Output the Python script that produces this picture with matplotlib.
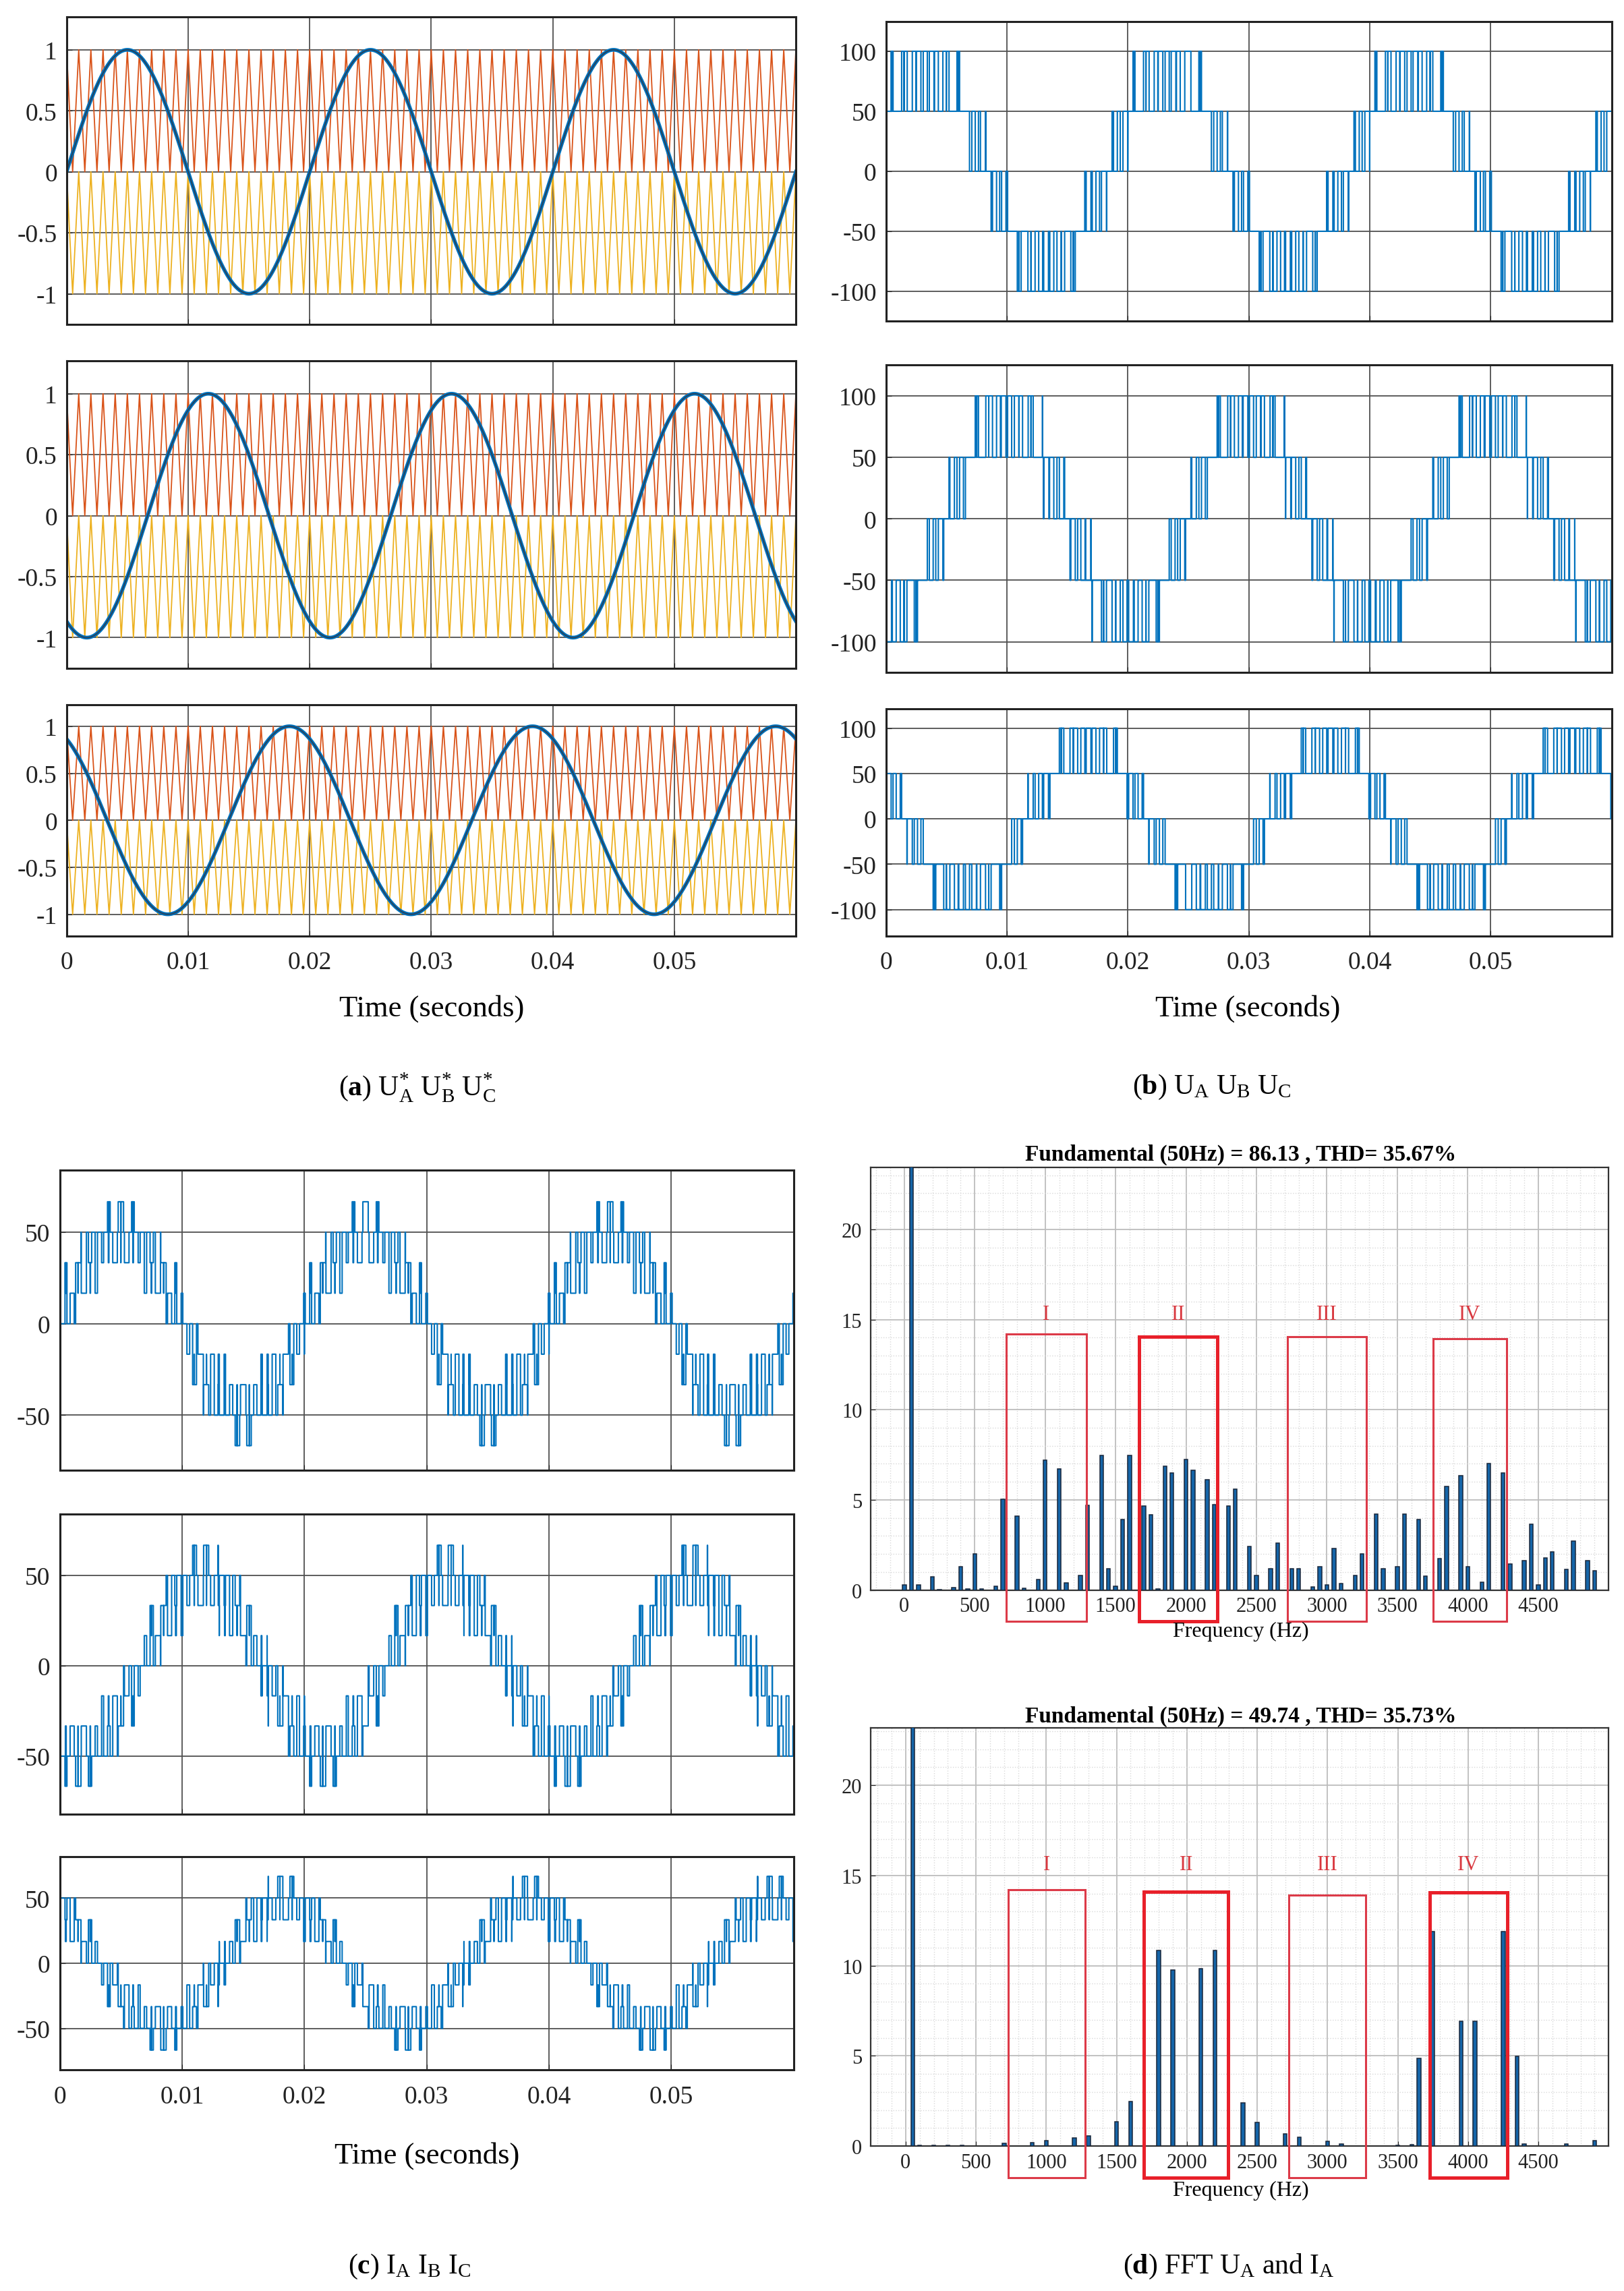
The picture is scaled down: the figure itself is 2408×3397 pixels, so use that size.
import numpy as np
import matplotlib.pyplot as plt
from matplotlib.patches import Rectangle
from matplotlib.ticker import MultipleLocator

plt.rcParams['font.family'] = ['Liberation Serif', 'DejaVu Serif']
plt.rcParams['axes.unicode_minus'] = False
plt.rcParams['mathtext.fontset'] = 'custom'
plt.rcParams['mathtext.rm'] = 'Liberation Serif'
plt.rcParams['mathtext.bf'] = 'Liberation Serif:bold'
plt.rcParams['mathtext.it'] = 'Liberation Serif:italic'

# simulation settings
f_ref = 50            # reference sine (Hz)
f_carrier = 1000      # triangular carrier (Hz)
mod_index = 1.0
level_step = 50       # dc level per cell
phase_deg = [0, -120, 120]
t_end = 0.06

time_ticks = [0, 0.01, 0.02, 0.03, 0.04, 0.05]
time_ticklabels = ['0', '0.01', '0.02', '0.03', '0.04', '0.05']

# FFT of U_A
fft_ua_freq = [0, 50, 100, 200, 250, 350, 400, 450, 500, 550, 650, 700, 800, 850, 950, 1000,
               1100, 1150, 1250, 1300, 1400, 1450, 1500, 1550, 1600, 1700, 1750, 1800, 1850,
               1900, 2000, 2050, 2150, 2200, 2300, 2350, 2450, 2500, 2600, 2650, 2750, 2800,
               2900, 2950, 3000, 3050, 3100, 3200, 3250, 3350, 3400, 3500, 3550, 3650, 3700,
               3800, 3850, 3950, 4000, 4100, 4150, 4250, 4300, 4400, 4450, 4500, 4550, 4600,
               4700, 4750, 4850, 4900]
fft_ua_mag = [0.3, 86.13, 0.28, 0.72, 0.03, 0.15, 1.3, 0.05, 2.0, 0.05, 0.2, 5.05, 4.1, 0.1,
              0.57, 7.2, 6.7, 0.4, 0.8, 4.7, 7.45, 1.2, 0.2, 3.93, 7.45, 4.66, 4.18, 0.05, 6.86,
              6.5, 7.23, 6.64, 6.13, 4.72, 4.65, 5.6, 2.42, 0.8, 1.2, 2.6, 1.2, 1.2,
              0.17, 1.3, 0.3, 2.3, 0.37, 0.82, 2.0, 4.2, 1.18, 1.3, 4.2, 3.9, 0.78,
              1.75, 5.75, 6.35, 1.3, 0.45, 7.0, 6.5, 1.43, 1.62, 3.65, 0.3, 1.8, 2.1,
              1.15, 2.72, 1.62, 1.08]

# FFT of I_A
fft_ia_freq = [50, 100, 200, 300, 400, 700, 900, 1000, 1200, 1300, 1500, 1600, 1800, 1900,
               2100, 2200, 2400, 2500, 2700, 2800, 3000, 3100, 3500, 3600, 3650, 3750, 3950,
               4050, 4250, 4350, 4400, 4700, 4900]
fft_ia_mag = [49.74, 0.05, 0.03, 0.03, 0.03, 0.15, 0.2, 0.3, 0.45, 0.58, 1.35, 2.47, 10.85,
              9.77, 9.83, 10.85, 2.41, 1.33, 0.67, 0.48, 0.25, 0.13, 0.05, 0.1, 4.87, 11.9,
              6.94, 6.94, 11.9, 4.97, 0.13, 0.13, 0.3]

fft_titles = ['Fundamental (50Hz) = 86.13 , THD= 35.67%',
              'Fundamental (50Hz) = 49.74 , THD= 35.73%']
band_labels = ['I', 'II', 'III', 'IV']
bands_ua = [(722, 1293, 14.2), (1667, 2222, 14.05), (2719, 3278, 14.05), (3756, 4274, 13.95)]
bands_ia = [(730, 1278, 14.2), (1696, 2293, 14.1), (2726, 3274, 13.9), (3726, 4281, 14.05)]

# ---- waveforms -------------------------------------------------------------
t = np.arange(0, t_end, 2e-6)
carrier_top = np.abs(2 * ((t * f_carrier) % 1) - 1)
carrier_bot = carrier_top - 1
refs = [mod_index * np.sin(2 * np.pi * f_ref * t + np.deg2rad(p)) for p in phase_deg]
leg = [level_step * (r > carrier_top) - level_step * (r < carrier_bot) for r in refs]
line_v = [leg[0] - leg[1], leg[1] - leg[2], leg[2] - leg[0]]
phase_i = [(2 * leg[k] - leg[(k + 1) % 3] - leg[(k + 2) % 3]) / 3 for k in range(3)]

# carrier vertices for drawing
t_tri = np.arange(0, t_end + 1e-9, 0.5 / f_carrier)
tri_top = np.where(np.arange(len(t_tri)) % 2 == 0, 1.0, 0.0)
tri_bot = tri_top - 1

W, H = 1110, 1566
fig = plt.figure(figsize=(24.08, 33.98), dpi=100)


def rect(left, right, top, bottom):
    return [left / W, 1 - bottom / H, (right - left) / W, (bottom - top) / H]


def time_axes(r, ylim, yticks, ylabels, show_x):
    ax = fig.add_axes(r)
    ax.set_xlim(0, t_end)
    ax.set_ylim(*ylim)
    ax.set_xticks(time_ticks)
    ax.set_xticklabels(time_ticklabels)
    ax.set_yticks(yticks)
    ax.set_yticklabels(ylabels)
    ax.grid(True, color='#505050', lw=1.3)
    ax.set_axisbelow(True)
    ax.tick_params(direction='in', length=6, labelsize=27, colors='#222222')
    ax.tick_params(axis='x', pad=16, labelbottom=show_x)
    ax.tick_params(axis='y', pad=10)
    for s in ax.spines.values():
        s.set_linewidth(2.2)
        s.set_color('#222222')
    return ax


# (a) references and carriers
a_rows = [(12, 222, (-1.25, 1.27)), (247, 457, (-1.25, 1.27)), (482, 640, (-1.23, 1.23))]
for k, (top, bot, yl) in enumerate(a_rows):
    ax = time_axes(rect(45.5, 544, top, bot), yl, [-1, -0.5, 0, 0.5, 1],
                   ['-1', '-0.5', '0', '0.5', '1'], k == 2)
    ax.plot(t_tri, tri_top, color='#D95319', lw=1.3)
    ax.plot(t_tri, tri_bot, color='#EDB120', lw=1.3)
    ax.plot(t, refs[k], color='#0072BD', lw=4)
    ax.plot(t, refs[k], color='#2b3f55', lw=1.2)

# (b) line voltages
b_rows = [(15, 220, (-125, 125)), (250, 460, (-125, 125)), (485, 640, (-129, 121))]
for k, (top, bot, yl) in enumerate(b_rows):
    ax = time_axes(rect(605.5, 1101.5, top, bot), yl, [-100, -50, 0, 50, 100],
                   ['-100', '-50', '0', '50', '100'], k == 2)
    ax.plot(t, line_v[k], color='#0072BD', lw=1.5, drawstyle='steps-post')

# (c) phase currents
c_rows = [(800, 1005, (-80, 84)), (1035, 1240, (-82, 84)), (1269, 1415, (-82, 82))]
for k, (top, bot, yl) in enumerate(c_rows):
    ax = time_axes(rect(40.8, 542.5, top, bot), yl, [-50, 0, 50], ['-50', '0', '50'], k == 2)
    ax.plot(t, phase_i[k], color='#0072BD', lw=1.5, drawstyle='steps-post')


# (d) spectra
def fft_axes(r, freq, mag, bands, title, title_y, lbl_y, xlim, ytop, thick, label_y):
    ax = fig.add_axes(r)
    ax.bar(freq, mag, width=26, color='#1565a8', edgecolor='#18263a', lw=1.1, zorder=3)
    ax.set_xlim(*xlim)
    ax.set_ylim(0, ytop)
    ax.set_xticks(range(0, 5000, 500))
    ax.set_yticks([0, 5, 10, 15, 20])
    ax.xaxis.set_minor_locator(MultipleLocator(100))
    ax.yaxis.set_minor_locator(MultipleLocator(1))
    ax.grid(True, which='major', color='#bdbdbd', lw=1.3)
    ax.grid(True, which='minor', color='#d9d9d9', lw=1.0, ls=':')
    ax.set_axisbelow(True)
    ax.tick_params(which='major', direction='in', length=5, labelsize=22, colors='#222222')
    ax.tick_params(which='minor', length=0)
    ax.tick_params(axis='x', pad=7)
    ax.tick_params(axis='y', pad=9)
    for s in ax.spines.values():
        s.set_linewidth(1.6)
        s.set_color('#333333')
    for (x0, x1, top), name, thk in zip(bands, band_labels, thick):
        ax.add_patch(Rectangle((x0, -1.75), x1 - x0, top + 1.75, fill=False,
                               ec='#e8202a' if thk else '#dc3a48',
                               lw=3.6 if thk else 2.2, clip_on=False, zorder=6))
        ax.text((x0 + x1) / 2, label_y, name, color='#d9383f', fontsize=22,
                ha='center', va='center', zorder=6)
    fig.text(848 / W, 1 - title_y / H, title, fontsize=24, fontweight='bold',
             ha='center', va='center')
    fig.text(848 / W, 1 - lbl_y / H, 'Frequency (Hz)', fontsize=23,
             ha='center', va='center')
    return ax


fft_axes(rect(595, 1099.5, 798, 1087), fft_ua_freq, fft_ua_mag, bands_ua, fft_titles[0],
         789, 1115, (-240, 5000), 23.45, [False, True, False, False], 15.3)
fft_axes(rect(595, 1099.5, 1181, 1467), fft_ia_freq, fft_ia_mag, bands_ia, fft_titles[1],
         1173, 1497, (-250, 5000), 23.2, [False, True, False, True], 15.6)

# axis titles and captions
for x, y in [(295, 689), (853, 689), (292, 1473)]:
    fig.text(x / W, 1 - y / H, 'Time (seconds)', fontsize=32, ha='center', va='center')

captions = [
    (285, 743, r'($\mathbf{a}$) U$^{*}_{\mathrm{A}}$ U$^{*}_{\mathrm{B}}$ U$^{*}_{\mathrm{C}}$'),
    (828, 743, r'($\mathbf{b}$) U$_{\mathrm{A}}$ U$_{\mathrm{B}}$ U$_{\mathrm{C}}$'),
    (280, 1549, r'($\mathbf{c}$) I$_{\mathrm{A}}$ I$_{\mathrm{B}}$ I$_{\mathrm{C}}$'),
    (840, 1549, r'($\mathbf{d}$) FFT U$_{\mathrm{A}}$ and I$_{\mathrm{A}}$'),
]
for x, y, s in captions:
    fig.text(x / W, 1 - y / H, s, fontsize=30, ha='center', va='center')

fig.savefig('out.png', dpi=100, facecolor='white')
